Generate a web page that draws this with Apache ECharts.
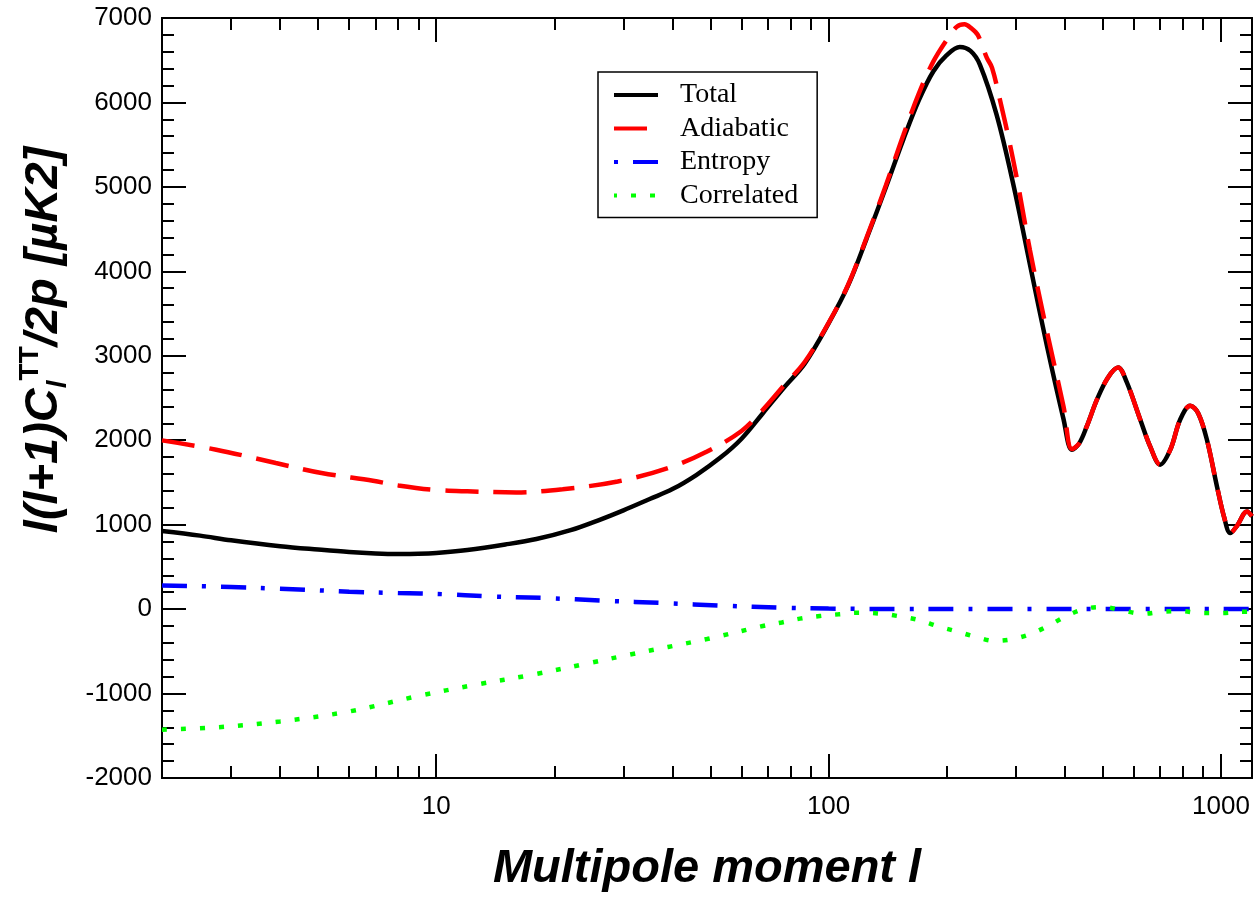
<!DOCTYPE html>
<html>
<head>
<meta charset="utf-8">
<title>CMB TT spectrum</title>
<script src="https://cdn.jsdelivr.net/npm/echarts@6/dist/echarts.min.js"></script>
<style>
  html, body { margin: 0; padding: 0; background: #fff; }
  #chart { width: 1254px; height: 898px; }
</style>
</head>
<body>
<div id="chart"></div>
<script>
// multipole l and values
const ellTotal = [2, 2.5, 3, 4, 5, 6, 7, 8, 9, 10, 12, 15, 18, 22, 26, 30, 35, 40, 46, 53, 60, 68, 77, 87, 100, 112, 125, 140, 155, 170, 185, 200, 216, 230, 243, 268, 296, 326, 360, 397, 417, 435, 455, 483, 515, 547, 575, 623, 660, 700, 743, 787, 835, 875, 921, 977, 1020, 1056, 1100, 1165, 1200]
const total = [925, 870, 815, 745, 705, 676, 660, 654, 656, 665, 700, 765, 830, 935, 1055, 1170, 1304, 1421, 1588, 1794, 2018, 2320, 2624, 2910, 3383, 3827, 4388, 4996, 5560, 6030, 6370, 6560, 6657, 6610, 6447, 5855, 5020, 4080, 3120, 2250, 1888, 1960, 2163, 2480, 2740, 2860, 2690, 2243, 1927, 1710, 1888, 2243, 2409, 2320, 2006, 1453, 1080, 900, 990, 1157, 1100]

const ellAdiabatic = [2, 2.75, 3.9, 5.1, 6.9, 8, 9.8, 12, 16, 21, 29, 39, 49, 60, 68, 77, 87, 100, 112, 125, 140, 155, 170, 185, 200, 212, 222, 231, 240, 253, 261, 274, 290, 305, 326, 360, 397, 417, 435, 455, 483, 515, 547, 575, 623, 660, 700, 743, 787, 835, 875, 921, 977, 1020, 1056, 1100, 1165, 1200]
const adiabatic = [1998, 1888, 1730, 1612, 1520, 1465, 1414, 1395, 1382, 1420, 1512, 1671, 1867, 2110, 2360, 2650, 2930, 3390, 3835, 4400, 5020, 5610, 6110, 6486, 6740, 6895, 6925, 6880, 6800, 6530, 6410, 6012, 5500, 4990, 4250, 3290, 2400, 1895, 1960, 2163, 2480, 2740, 2860, 2690, 2243, 1927, 1710, 1888, 2243, 2409, 2320, 2006, 1453, 1080, 900, 990, 1157, 1100]

const ellEntropy = [2, 3, 4, 6, 8, 10.4, 13.5, 19, 27, 38, 54, 76, 100, 150, 200, 1200]
const entropy = [281, 262, 241, 207, 190, 177, 151, 131, 99, 72, 40, 16, 6, 1, 0, 0]

const ellCorrelated = [2, 2.75, 4, 6, 8.9, 12.6, 17.6, 24.6, 31, 49, 68, 76, 84.5, 95, 106, 120, 136, 150, 170, 189, 213, 237, 265, 294, 329, 367, 405, 451, 501, 564, 634, 705, 786, 884, 1000, 1125, 1200]
const correlated = [-1428, -1400, -1330, -1212, -1034, -895, -777, -638, -540, -354, -200, -158, -113, -82, -62, -42, -54, -82, -129, -200, -266, -329, -376, -356, -289, -187, -78, 5, 25, -19, -55, -31, -22, -46, -46, -31, -30]

const xMajorTicks = [10, 100, 1000]
const xMinorTicks = [3, 4, 5, 6, 7, 8, 9, 20, 30, 40, 50, 60, 70, 80, 90, 200, 300, 400, 500, 600, 700, 800, 900]

const chart = echarts.init(document.getElementById('chart'))

function pairs(xs, ys) {
    return xs.map((x, i) => [x, ys[i]])
}

const axisColor = '#000'
const tickFont = { fontFamily: 'Liberation Sans', fontSize: 26, color: '#000' }

function logAxis(position, ticks, length, withLabel) {
    return {
        type: 'log',
        logBase: 10,
        min: 2,
        max: 1200,
        position: position,
        axisLine: { show: true, onZero: false, lineStyle: { color: axisColor, width: 2 } },
        axisTick: { show: true, inside: true, length: length, customValues: ticks, lineStyle: { color: axisColor, width: 2 } },
        axisLabel: withLabel ? Object.assign({
            show: true, margin: 16, customValues: ticks,
            formatter: v => String(Math.round(v))
        }, tickFont) : { show: false },
        splitLine: { show: false }
    }
}

function valueAxis(position, withLabel) {
    return {
        type: 'value',
        min: -2000,
        max: 7000,
        interval: 1000,
        position: position,
        axisLine: { show: true, onZero: false, lineStyle: { color: axisColor, width: 2 } },
        axisTick: { show: true, inside: true, length: 24, lineStyle: { color: axisColor, width: 2 } },
        minorTick: { show: true, splitNumber: 5, length: 12, lineStyle: { color: axisColor, width: 2 } },
        axisLabel: withLabel ? Object.assign({ show: true, margin: 10, formatter: v => String(v) }, tickFont) : { show: false },
        splitLine: { show: false }
    }
}

const xBottom = logAxis('bottom', xMajorTicks, 24, true)
xBottom.name = 'Multipole moment l'
xBottom.nameLocation = 'middle'
xBottom.nameGap = 68
xBottom.nameTextStyle = { fontFamily: 'Liberation Sans', fontSize: 47, fontWeight: 'bold', fontStyle: 'italic', color: '#000' }

const yLeft = valueAxis('left', true)
yLeft.name = '{m|l(l+1)C}{sub|l}{sup|TT}{m|/2p [µK2]}'
yLeft.nameLocation = 'middle'
yLeft.nameGap = 90
yLeft.nameTextStyle = {
    padding: [0, 0, 0, 116],
    rich: {
        m: { fontFamily: 'Liberation Sans', fontSize: 47, fontWeight: 'bold', fontStyle: 'italic', color: '#000', lineHeight: 56 },
        sub: { fontFamily: 'Liberation Sans', fontSize: 28, fontWeight: 'bold', fontStyle: 'italic', color: '#000', verticalAlign: 'bottom', lineHeight: 56 },
        sup: { fontFamily: 'Liberation Sans', fontSize: 28, fontWeight: 'bold', color: '#000', verticalAlign: 'top', lineHeight: 56 }
    }
}

function lineSeries(name, xs, ys, color, dash) {
    return {
        name: name,
        type: 'line',
        data: pairs(xs, ys),
        showSymbol: false,
        symbol: 'none',
        smooth: 0.35,
        color: color,
        lineStyle: { color: color, width: 4.5, type: dash },
        xAxisIndex: 0,
        yAxisIndex: 0
    }
}

chart.setOption({
    animation: false,
    backgroundColor: '#fff',
    grid: { left: 162, right: 2, top: 18, bottom: 120, containLabel: false, outerBoundsMode: 'none' },
    legend: {
        orient: 'vertical',
        left: 598,
        top: 72,
        backgroundColor: '#fff',
        borderColor: '#000',
        borderWidth: 1.5,
        borderRadius: 0,
        padding: [9, 19, 8, 14],
        itemWidth: 44,
        itemHeight: 14,
        itemGap: 5.5,
        itemStyle: { color: 'rgba(0,0,0,0)', borderWidth: 0, opacity: 0 },
        lineStyle: { width: 4 },
        textStyle: { fontFamily: 'Liberation Serif', fontSize: 28, lineHeight: 28, color: '#000', padding: [0, 0, 0, 17] },
        data: [
            { name: 'Total' },
            { name: 'Adiabatic' },
            { name: 'Entropy', lineStyle: { dashOffset: 40 } },
            { name: 'Correlated' }
        ]
    },
    xAxis: [
        xBottom,
        logAxis('bottom', xMinorTicks, 12, false),
        logAxis('top', xMajorTicks, 24, false),
        logAxis('top', xMinorTicks, 12, false)
    ],
    yAxis: [
        yLeft,
        valueAxis('right', false)
    ],
    series: [
        lineSeries('Total', ellTotal, total, '#000000', 'solid'),
        lineSeries('Adiabatic', ellAdiabatic, adiabatic, '#ff0000', [33, 15]),
        lineSeries('Entropy', ellEntropy, entropy, '#0000ff', [25, 15, 4, 15]),
        lineSeries('Correlated', ellCorrelated, correlated, '#00ff00', [5, 14])
    ]
})
</script>
</body>
</html>
